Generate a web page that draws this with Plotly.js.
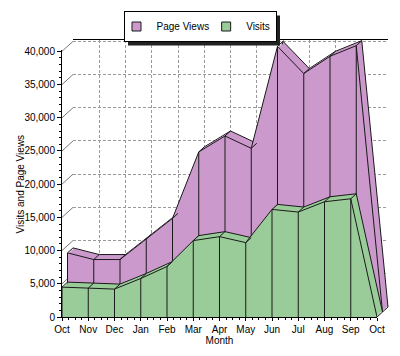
<!DOCTYPE html>
<html><head><meta charset="utf-8">
<script src="https://cdn.plot.ly/plotly-3.0.1.min.js"></script>
<style>html,body{margin:0;padding:0;background:#fff}#chart{width:400px;height:356px}</style>
</head><body><div id="chart"></div>
<script>
// ---- data ----
const months = ['Oct','Nov','Dec','Jan','Feb','Mar','Apr','May','Jun','Jul','Aug','Sep','Oct'];
const pageViews = [8900, 7900, 7900, 11000, 14100, 24100, 26500, 24650, 40000, 35900, 38500, 40100, 0];
const visits    = [4500, 4350, 4200, 5800, 7600, 11500, 12100, 11200, 16200, 15800, 17350, 17800, 0];
const yTicks = [0, 5000, 10000, 15000, 20000, 25000, 30000, 35000, 40000];

// ---- geometry ----
const W = 400, H = 356;
const X0 = 62, XSTEP = 26.25;
const Y0 = 317, YMAX = 40200, YPX = 267;
const DX = 11, DY = 10;
const ypu = YPX / YMAX;
const DXU = DX / XSTEP, DYU = DY / ypu;
const xs = months.map((_, i) => i);
const XR = [-0.6, 12.4], YR = [-2000, 42000];
const XE = [0, 12], YE = [0, YMAX];

function xdom(t, r) { return [(X0 + t*DX + r[0]*XSTEP)/W, (X0 + t*DX + r[1]*XSTEP)/W]; }
function ydom(t, r) { return [1 - (Y0 - t*DY - r[0]*ypu)/H, 1 - (Y0 - t*DY - r[1]*ypu)/H]; }

const FONT = 'Liberation Sans, Arial, sans-serif';
const PURPLE = '#cc99cc', GREEN = '#99cc99', EDGE = '#1a1a1a', GRID = '#9a9a9a';

const layerT = {1:1, 2:1, 3:5/6, 4:4/6, 5:0.5, 6:2/6, 7:1/6, 8:0, 9:0};

const layout = {
  width: W, height: H,
  margin: {l:0, r:0, t:0, b:0},
  paper_bgcolor: '#ffffff', plot_bgcolor: 'rgba(0,0,0,0)',
  font: {family: FONT, size: 10, color: '#000'},
  showlegend: true,
  legend: {orientation: 'h', x: 0.5, xanchor: 'center', y: 1 - 11/H, yanchor: 'top',
           bgcolor: '#ffffff', bordercolor: '#000', borderwidth: 1, indentation: -8,
           font: {family: FONT, size: 10}, itemwidth: 30, tracegroupgap: 0},
  shapes: [],
  hovermode: false
};

for (let k = 1; k <= 9; k++) {
  const sx = k === 1 ? '' : String(k);
  const t = layerT[k];
  const exact = (k === 1 || k === 9);
  const xr = exact ? XE : XR, yr = exact ? YE : YR;
  layout['xaxis' + sx] = {domain: xdom(t, xr), range: xr, anchor: 'y' + sx, visible: false, fixedrange: true};
  layout['yaxis' + sx] = {domain: ydom(t, yr), range: yr, anchor: 'x' + sx, visible: false, fixedrange: true};
}
Object.assign(layout.xaxis, {visible: true, showgrid: true, gridcolor: GRID, griddash: '3px,2px', gridwidth: 1,
  tickmode: 'linear', tick0: 0, dtick: 1, showticklabels: false, ticks: '', zeroline: false,
  showline: true, side: 'top', linecolor: '#000', linewidth: 1});
Object.assign(layout.yaxis, {visible: true, showgrid: true, gridcolor: GRID, griddash: '3px,2px', gridwidth: 1,
  tickmode: 'array', tickvals: yTicks, showticklabels: false, ticks: '', zeroline: false, showline: false});
Object.assign(layout.xaxis9, {visible: true, tickmode: 'array', tickvals: xs, ticktext: months,
  ticks: 'outside', ticklen: 3, tickcolor: '#000', showline: true, linecolor: '#000', linewidth: 1,
  showgrid: false, zeroline: false, tickfont: {family: FONT, size: 10},
  minor: {tickmode: 'linear', tick0: 0, dtick: 0.25, ticks: 'outside', ticklen: 2, tickcolor: '#000', showgrid: false},
  title: {text: 'Month', font: {family: FONT, size: 10}, standoff: 0}});
Object.assign(layout.yaxis9, {visible: true, tickmode: 'array', tickvals: yTicks, tickformat: ',d',
  ticks: 'outside', ticklen: 4, tickcolor: '#000', showline: true, linecolor: '#000', linewidth: 1,
  showgrid: false, zeroline: false, tickfont: {family: FONT, size: 10},
  minor: {tickmode: 'linear', tick0: 0, dtick: 1000, ticks: 'outside', ticklen: 2, tickcolor: '#000', showgrid: false}});
// y title carried by the (otherwise invisible) front data axis, which sits at the same x
Object.assign(layout.yaxis8, {visible: true, showline: false, showgrid: false, zeroline: false,
  showticklabels: false, ticks: '',
  title: {text: 'Visits and Page Views', font: {family: FONT, size: 10}, standoff: 18}});

function ax(k) { return k === 1 ? {xaxis: 'x', yaxis: 'y'} : {xaxis: 'x' + k, yaxis: 'y' + k}; }
const dummy = k => Object.assign({type: 'scatter', x: [null], y: [null], mode: 'none', showlegend: false, hoverinfo: 'skip'}, ax(k));
function area(k, vals, color, outline, extra) {
  return Object.assign({type: 'scatter', x: xs, y: vals, fill: 'tozeroy', fillcolor: color,
    mode: outline ? 'lines' : 'none', line: {color: EDGE, width: 1}, showlegend: false, hoverinfo: 'skip'}, ax(k), extra || {});
}
function folds(k, vals, depth) {
  const fx = [], fy = [];
  vals.forEach((v, i) => { fx.push(i, i + depth*DXU, null); fy.push(v, v + depth*DYU, null); });
  return Object.assign({type: 'scatter', x: fx, y: fy, mode: 'lines', line: {color: EDGE, width: 1},
    showlegend: false, hoverinfo: 'skip'}, ax(k));
}
function wallTicks(k) {
  const fx = [], fy = [];
  yTicks.forEach(v => { fx.push(-DXU, 0, null); fy.push(v - DYU, v, null); });
  return Object.assign({type: 'scatter', x: fx, y: fy, mode: 'lines', line: {color: '#777', width: 1},
    showlegend: false, hoverinfo: 'skip'}, ax(k));
}
const vbars = vals => ({error_y: {type: 'data', symmetric: false, array: vals.map(() => 0), arrayminus: vals,
  color: EDGE, thickness: 1, width: 0}});
function legendKey(name, color) {
  return Object.assign({type: 'scatter', x: [null], y: [null], mode: 'markers', name: name, showlegend: true,
    marker: {symbol: 'square', size: 9, color: color, line: {color: EDGE, width: 1}}, hoverinfo: 'skip'}, ax(9));
}

const data = [
  dummy(1),
  wallTicks(2),
  area(2, pageViews, PURPLE, true),
  area(3, pageViews, PURPLE, false),
  area(4, pageViews, PURPLE, false),
  area(5, pageViews, PURPLE, true, vbars(pageViews)),
  folds(5, pageViews, 0.5),
  area(5, visits, GREEN, true),
  area(6, visits, GREEN, false),
  area(7, visits, GREEN, false),
  area(8, visits, GREEN, true, vbars(visits)),
  folds(8, visits, 0.5),
  dummy(9),
  legendKey('Page Views', PURPLE),
  legendKey('Visits', GREEN)
];

Plotly.newPlot('chart', data, layout, {staticPlot: true, displayModeBar: false}).then(gd => {
  const bg = gd.querySelector('.legend .bg');
  const root = gd.getBoundingClientRect();
  if (bg) {
    const b = bg.getBoundingClientRect();
    const x0 = b.left - root.left + 4, x1 = b.right - root.left + 4;
    const y0 = b.top - root.top + 4, y1 = b.bottom - root.top + 4;
    Plotly.relayout(gd, {shapes: [{type: 'rect', xref: 'paper', yref: 'paper',
      x0: x0/W, x1: x1/W, y0: 1 - y1/H, y1: 1 - y0/H, fillcolor: '#222', line: {width: 0}, layer: 'above'}]});
  }
});
</script></body></html>
